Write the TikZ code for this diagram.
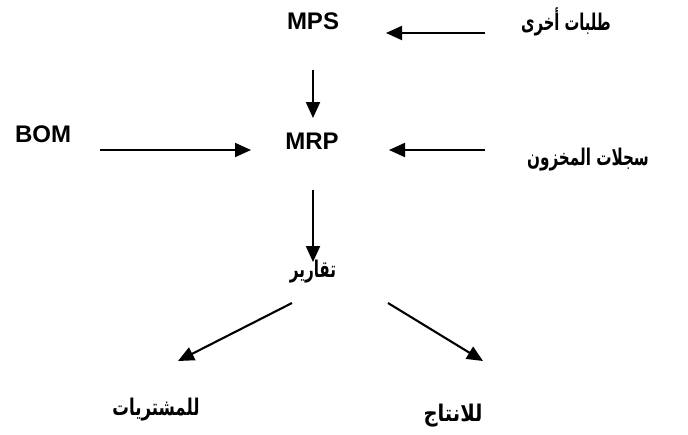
\documentclass[tikz,border=0pt]{standalone}
\usepackage{fontspec}
\usepackage{graphicx}
\setmainfont{Liberation Sans}
\newfontfamily\arabicfont[Script=Arabic]{DejaVu Sans}
\TeXXeTstate=1
\usetikzlibrary{arrows.meta}
\newcommand{\artxt}[2][0.66]{\scalebox{#1}[1]{\arabicfont\bfseries\fontsize{23}{26}\selectfont\beginR #2\endR}}
\begin{document}
\begin{tikzpicture}[x=1pt,y=-1pt,
  lbl/.style={font=\bfseries\fontsize{24}{28}\selectfont, inner sep=0pt},
  albl/.style={inner sep=0pt},
  arr/.style={line width=2.1pt, -{Triangle[length=16pt,width=14pt]}}]
\useasboundingbox (0,0) rectangle (688,434);
\node[lbl] (mps) at (313,21) {MPS};
\node[albl] (other) at (566,22) {\artxt[0.64]{طلبات أخرى}};
\node[lbl] (bom) at (43,134) {BOM};
\node[lbl] (mrp) at (312,141) {MRP};
\node[albl] (inv) at (588,160) {\artxt[0.66]{سجلات المخزون}};
\node[albl] (rep) at (313,272) {\artxt[0.66]{تقارير}};
\node[albl] (pur) at (156,410) {\artxt[0.72]{للمشتريات}};
\node[albl] (prod) at (453,416) {\artxt[0.85]{للانتاج}};
\coordinate (o1) at (485,33); \coordinate (o2) at (386,33);
\coordinate (m1) at (313,70); \coordinate (m2) at (313,118);
\coordinate (b1) at (100,150); \coordinate (b2) at (251,150);
\coordinate (i1) at (485,150); \coordinate (i2) at (389,150);
\coordinate (r1) at (313,190); \coordinate (r2) at (313,262);
\coordinate (p1) at (292,303); \coordinate (p2) at (178,361);
\coordinate (q1) at (388,303); \coordinate (q2) at (483,361);
\draw[arr] (o1) -- (o2);
\draw[arr] (m1) -- (m2);
\draw[arr] (b1) -- (b2);
\draw[arr] (i1) -- (i2);
\draw[arr] (r1) -- (r2);
\draw[arr] (p1) -- (p2);
\draw[arr] (q1) -- (q2);
\end{tikzpicture}
\end{document}
